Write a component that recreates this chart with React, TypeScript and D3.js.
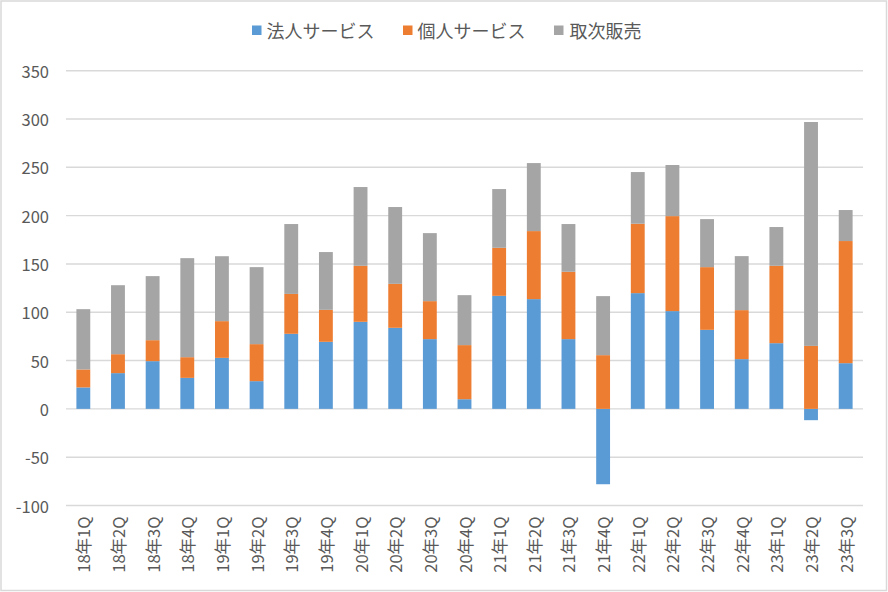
import React from "react";
import * as d3 from "d3";

const categories = [
  "18年1Q", "18年2Q", "18年3Q", "18年4Q",
  "19年1Q", "19年2Q", "19年3Q", "19年4Q",
  "20年1Q", "20年2Q", "20年3Q", "20年4Q",
  "21年1Q", "21年2Q", "21年3Q", "21年4Q",
  "22年1Q", "22年2Q", "22年3Q", "22年4Q",
  "23年1Q", "23年2Q", "23年3Q",
];

const corporate = [22.2, 37, 49.4, 32.1, 52.8, 28.7, 77.7, 69.4, 90.1, 83.9, 72.2, 10, 117, 113.6, 72.2, -78, 119.8, 101.2, 81.8, 51.5, 68, -11.7, 47.3];
const personal = [18.6, 19.6, 21.7, 21.4, 38, 38.3, 41.3, 33.1, 58, 45.5, 39.3, 56, 49.7, 70.4, 69.7, 55.6, 71.8, 98.3, 64.9, 50.7, 80.1, 65.2, 126.4];
const agency = [62.4, 71.4, 66.3, 102.5, 67.2, 79.7, 72.3, 59.8, 81.5, 79.5, 70.4, 51.7, 60.8, 70.4, 49.4, 61.1, 53.5, 52.9, 49.7, 55.9, 40.1, 231.7, 32.1];

const seriesNames = ["法人サービス", "個人サービス", "取次販売"];
const seriesColors = ["#5b9bd5", "#ed7d31", "#a5a5a5"];
const yTicks = [-100, -50, 0, 50, 100, 150, 200, 250, 300, 350];

const W = 888;
const H = 592;
const FONT = "'Noto Sans CJK JP', 'Noto Sans', sans-serif";
const TEXT = "#595959";

export default function App() {
  const rows = categories.map((c, i) => ({
    cat: c,
    s0: corporate[i],
    s1: personal[i],
    s2: agency[i],
  }));
  const stack = d3
    .stack<any>()
    .keys(["s0", "s1", "s2"])
    .offset(d3.stackOffsetDiverging);
  const layers = stack(rows);

  const x = d3
    .scaleBand<string>()
    .domain(categories)
    .range([66, 863])
    .paddingInner(0.6)
    .paddingOuter(0.3);
  const y = d3.scaleLinear().domain([-100, 350]).range([505.5, 70.7]);

  const legendItems = [
    { sq: 252, tx: 266.5 },
    { sq: 403, tx: 417.5 },
    { sq: 554, tx: 569.5 },
  ];

  return (
    <svg
      width={W}
      height={H}
      style={{ position: "fixed", left: 0, top: 0, background: "#fff" }}
      fontFamily={FONT}
    >
      <rect x={0} y={0} width={W} height={H} fill="#fff" />
      <rect x={1} y={1} width={W - 2.5} height={H - 2.5} fill="none" stroke="#d9d9d9" strokeWidth={1.5} />

      {yTicks.map((t) => (
        <g key={t}>
          <line x1={66} x2={863} y1={y(t)} y2={y(t)} stroke="#d9d9d9" strokeWidth={1.4} />
          <text
            x={49}
            y={y(t)}
            textAnchor="end"
            dominantBaseline="central"
            fontSize={16.5}
            fill={TEXT}
          >
            {t}
          </text>
        </g>
      ))}

      {layers.map((layer, li) => (
        <g key={li} fill={seriesColors[li]}>
          {layer.map((d, i) => {
            const y0 = Math.min(d[0], d[1]);
            const y1 = Math.max(d[0], d[1]);
            return (
              <rect
                key={i}
                x={x(categories[i])}
                width={x.bandwidth()}
                y={y(y1)}
                height={Math.max(0, y(y0) - y(y1))}
              />
            );
          })}
        </g>
      ))}

      {categories.map((c) => {
        const cx = (x(c) as number) + x.bandwidth() / 2;
        return (
          <text
            key={c}
            transform={`translate(${cx},516.5) rotate(-90)`}
            textAnchor="end"
            dominantBaseline="central"
            fontSize={16.5}
            fill={TEXT}
          >
            {c}
          </text>
        );
      })}

      {seriesNames.map((n, i) => (
        <g key={n}>
          <rect x={legendItems[i].sq} y={25.5} width={9.5} height={9.5} fill={seriesColors[i]} />
          <text
            x={legendItems[i].tx}
            y={30}
            dominantBaseline="central"
            fontSize={18}
            fill={TEXT}
          >
            {n}
          </text>
        </g>
      ))}
    </svg>
  );
}
